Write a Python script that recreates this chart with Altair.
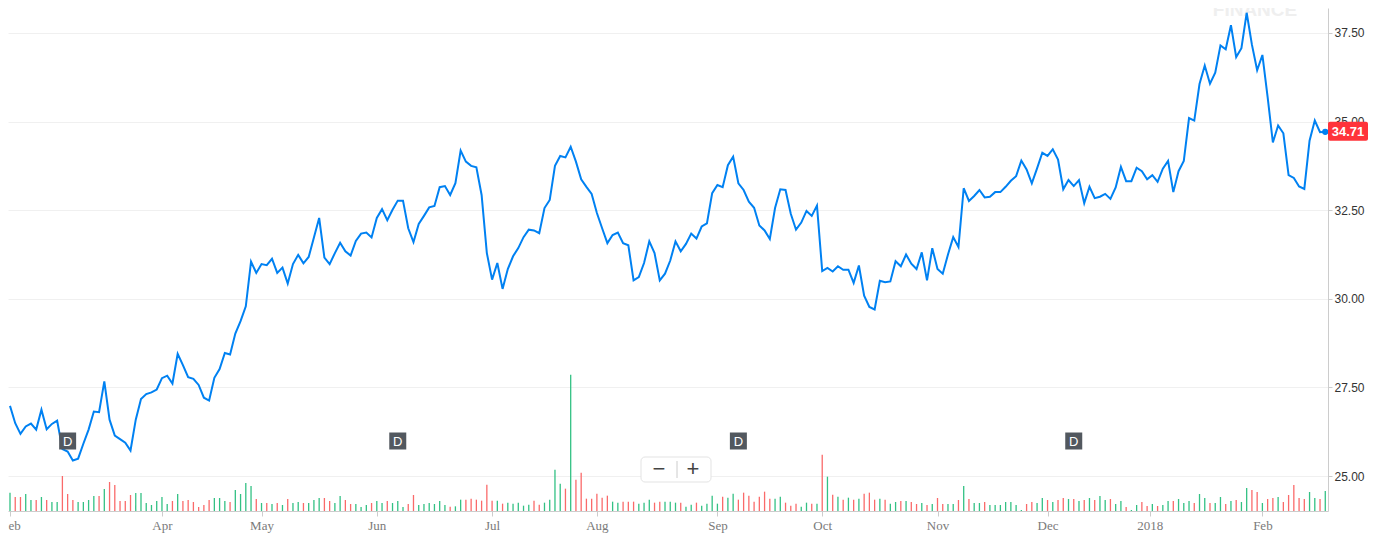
import altair as alt
import pandas as pd
import numpy as np

# ---- data (trading-day index 0..251) ----
price = [
    26.98, 26.49, 26.19, 26.40, 26.48, 26.31, 26.87, 26.32, 26.47, 26.56,
    25.76, 25.69, 25.44, 25.49, 25.91, 26.31, 26.82, 26.80, 27.67, 26.59,
    26.14, 26.04, 25.94, 25.72, 26.59, 27.17, 27.31, 27.36, 27.44, 27.76,
    27.83, 27.61, 28.45, 28.13, 27.79, 27.74, 27.57, 27.21, 27.13, 27.77,
    28.02, 28.47, 28.43, 29.02, 29.37, 29.79, 31.05, 30.73, 30.98, 30.95,
    31.13, 30.73, 30.88, 30.43, 30.98, 31.24, 31.00, 31.18, 31.73, 32.28,
    31.16, 30.98, 31.29, 31.58, 31.34, 31.22, 31.63, 31.84, 31.87, 31.73,
    32.28, 32.53, 32.22, 32.51, 32.77, 32.77, 31.99, 31.60, 32.11, 32.34,
    32.58, 32.62, 33.15, 33.18, 32.93, 33.26, 34.18, 33.87, 33.75, 33.71,
    32.93, 31.29, 30.54, 31.01, 30.28, 30.84, 31.20, 31.43, 31.74, 31.95,
    31.93, 31.85, 32.56, 32.79, 33.75, 34.03, 33.99, 34.29, 33.87, 33.37,
    33.16, 32.96, 32.42, 31.99, 31.57, 31.80, 31.87, 31.57, 31.51, 30.52,
    30.61, 31.01, 31.62, 31.29, 30.52, 30.71, 31.08, 31.62, 31.34, 31.55,
    31.84, 31.70, 32.04, 32.13, 32.98, 33.21, 33.15, 33.77, 34.01, 33.26,
    33.07, 32.74, 32.57, 32.07, 31.93, 31.69, 32.56, 33.09, 33.07, 32.40,
    31.95, 32.15, 32.48, 32.34, 32.63, 30.78, 30.87, 30.77, 30.92, 30.82,
    30.82, 30.45, 30.94, 30.09, 29.77, 29.70, 30.51, 30.47, 30.49, 31.06,
    30.92, 31.25, 30.99, 30.84, 31.31, 30.52, 31.43, 30.84, 30.71, 31.25,
    31.74, 31.46, 33.12, 32.76, 32.90, 33.07, 32.86, 32.88, 33.01, 33.01,
    33.16, 33.33, 33.46, 33.90, 33.65, 33.26, 33.68, 34.12, 34.03, 34.22,
    33.93, 33.09, 33.35, 33.18, 33.35, 32.70, 33.16, 32.84, 32.88, 32.96,
    32.82, 33.14, 33.72, 33.32, 33.32, 33.70, 33.60, 33.37, 33.49, 33.30,
    33.67, 33.89, 33.01, 33.60, 33.89, 35.10, 35.03, 36.06, 36.58, 36.07,
    36.38, 37.15, 37.04, 37.72, 36.82, 37.07, 38.07, 37.17, 36.45, 36.88,
    35.69, 34.41, 34.89, 34.67, 33.49, 33.41, 33.17, 33.10, 34.46, 35.03,
    34.70, 34.71,
]

# volume, in hundreds of thousands of shares
volume = [
    55, 42, 42, 51, 33, 33, 42, 33, 27, 27,
    105, 51, 33, 27, 27, 33, 45, 45, 66, 87,
    78, 30, 30, 48, 54, 54, 24, 18, 30, 42,
    21, 30, 51, 30, 33, 27, 12, 18, 33, 39,
    39, 30, 27, 63, 51, 84, 75, 36, 24, 24,
    21, 24, 18, 36, 24, 27, 24, 24, 33, 39,
    39, 30, 24, 45, 33, 21, 21, 12, 18, 24,
    30, 24, 30, 24, 30, 12, 21, 48, 18, 21,
    24, 21, 30, 18, 13, 14, 34, 34, 37, 34,
    31, 79, 31, 31, 22, 25, 22, 25, 16, 19,
    31, 19, 25, 34, 124, 82, 67, 409, 94, 115,
    37, 37, 52, 40, 46, 28, 25, 28, 28, 28,
    22, 25, 34, 25, 28, 28, 28, 25, 25, 13,
    19, 25, 16, 22, 46, 22, 43, 40, 52, 34,
    55, 46, 28, 43, 58, 37, 37, 43, 25, 16,
    22, 13, 25, 22, 22, 169, 103, 49, 43, 34,
    40, 34, 37, 52, 55, 34, 37, 34, 22, 27,
    30, 30, 27, 21, 24, 18, 21, 39, 21, 21,
    21, 33, 75, 36, 24, 24, 27, 18, 18, 18,
    27, 27, 18, 3, 21, 27, 24, 39, 33, 27,
    33, 39, 36, 36, 30, 33, 39, 33, 45, 33,
    36, 21, 30, 12, 3, 18, 27, 15, 21, 15,
    18, 30, 30, 36, 24, 30, 24, 51, 39, 24,
    24, 42, 21, 30, 33, 27, 69, 63, 57, 24,
    36, 39, 42, 27, 48, 78, 39, 36, 57, 39,
    36, 60,
]

month_ticks = [0, 29, 48, 70, 92, 112, 135, 155, 177, 198, 217.5, 239]
month_labels = ["eb", "Apr", "May", "Jun", "Jul", "Aug", "Sep", "Oct", "Nov", "Dec", "2018", "Feb"]
price_ticks = [25, 27.5, 30, 32.5, 35, 37.5]
dividend_idx = [11, 74, 139, 203]

# ---- layout / style ----
W, H = 1320, 503
X_DOMAIN = [-0.38, 251.52]
Y_DOMAIN = [24.013, 38.205]
VOL_DOMAIN = [0, 1509]
BLUE = "#0081f2"
GREEN = "#33c184"
RED = "#fa6a6a"

df = pd.DataFrame({"idx": np.arange(len(price)), "price": price, "volume": volume})
df["dir"] = np.where(df["price"].diff().fillna(1) >= 0, "up", "down")
last = df.tail(1)
div_df = pd.DataFrame({"idx": dividend_idx, "label": ["D"] * len(dividend_idx)})
one = pd.DataFrame({"k": [0]})

label_expr = "{}[indexof({}, datum.value)]".format(
    "[" + ",".join("'%s'" % s for s in month_labels) + "]",
    "[" + ",".join(str(v) for v in month_ticks) + "]",
)

x_axis = alt.Axis(
    values=month_ticks, labelExpr=label_expr, grid=False, title=None,
    domainColor="#cccccc", tickColor="#cccccc", tickSize=5,
    labelFont="Liberation Serif", labelFontSize=13, labelColor="#7a7a7a",
    labelPadding=3, labelOverlap=False, labelFlush=False,
    labelAlign={"condition": {"test": "datum.value == 0", "value": "left"}, "value": "center"},
    labelOffset={"condition": {"test": "datum.value == 0", "value": -2}, "value": 0},
)
X = alt.X("idx:Q", scale=alt.Scale(domain=X_DOMAIN, nice=False, zero=False, padding=0), axis=x_axis)
y_scale = alt.Scale(domain=Y_DOMAIN, nice=False, zero=False, padding=0)

vol = alt.Chart(df).mark_bar(width=1.3).encode(
    x=X,
    y=alt.Y("volume:Q", scale=alt.Scale(domain=VOL_DOMAIN, nice=False, padding=0), axis=None),
    color=alt.Color("dir:N", scale=alt.Scale(domain=["up", "down"], range=[GREEN, RED]), legend=None),
)

line = alt.Chart(df).mark_line(color=BLUE, strokeWidth=2, clip=True).encode(
    x=X,
    y=alt.Y("price:Q", scale=y_scale, axis=alt.Axis(
        orient="right", values=price_ticks, format=".2f", title=None,
        grid=True, gridColor="#f0f0f0", domainColor="#cccccc", tickColor="#cccccc",
        tickSize=4, labelFont="Liberation Sans", labelFontSize=12, labelColor="#333333",
        labelPadding=2, zindex=0)),
)

dot = alt.Chart(last).mark_circle(size=40, color=BLUE, opacity=1).encode(
    x=X, y=alt.Y("price:Q", scale=y_scale, axis=None))

div_box = alt.Chart(div_df).mark_square(size=289, color="#52585f", opacity=1).encode(
    x=X, y=alt.value(433))
div_txt = alt.Chart(div_df).mark_text(color="white", fontSize=13, font="Liberation Sans",
                                      baseline="middle").encode(
    x=X, y=alt.value(434), text="label:N")

zoom_box = alt.Chart(one).mark_rect(fill="white", stroke="#e3e3e3", cornerRadius=4).encode(
    x=alt.value(633), x2=alt.value(703), y=alt.value(449), y2=alt.value(474))
zoom_sep = alt.Chart(one).mark_rule(color="#cccccc").encode(
    x=alt.value(669), y=alt.value(453), y2=alt.value(470))
zoom_minus = alt.Chart(one).mark_text(text="\u2212", fontSize=22, color="#444444",
                                      font="Liberation Sans", baseline="middle").encode(
    x=alt.value(651), y=alt.value(461))
zoom_plus = alt.Chart(one).mark_text(text="+", fontSize=22, color="#444444",
                                     font="Liberation Sans", baseline="middle").encode(
    x=alt.value(685), y=alt.value(461))

watermark = alt.Chart(one).mark_text(text="FINANCE", fontSize=19, fontWeight="bold",
                                     color="#efefef", font="Liberation Sans",
                                     baseline="alphabetic").encode(
    x=alt.value(1247), y=alt.value(8))

last_box = alt.Chart(last).mark_rect(color="#ff333a", cornerRadius=2, yOffset=-10, y2Offset=9).encode(
    x=alt.value(W), x2=alt.value(W + 40),
    y=alt.Y("price:Q", scale=y_scale, axis=None), y2="price:Q")
last_txt = alt.Chart(last).mark_text(color="white", fontSize=13, fontWeight="bold",
                                     font="Liberation Sans", baseline="middle").encode(
    x=alt.value(W + 20),
    y=alt.Y("price:Q", scale=y_scale, axis=None),
    text=alt.Text("price:Q", format=".2f"))

chart = alt.layer(
    watermark, vol, line, dot, div_box, div_txt,
    zoom_box, zoom_sep, zoom_minus, zoom_plus, last_box, last_txt,
).resolve_scale(y="independent").properties(
    width=W, height=H,
    autosize=alt.AutoSizeParams(type="none"),
    padding={"left": 0, "top": 0, "right": 40, "bottom": 30},
    background="white",
).configure_view(strokeWidth=0)

chart.save("out.html", embed_options={"renderer": "svg", "actions": False})
